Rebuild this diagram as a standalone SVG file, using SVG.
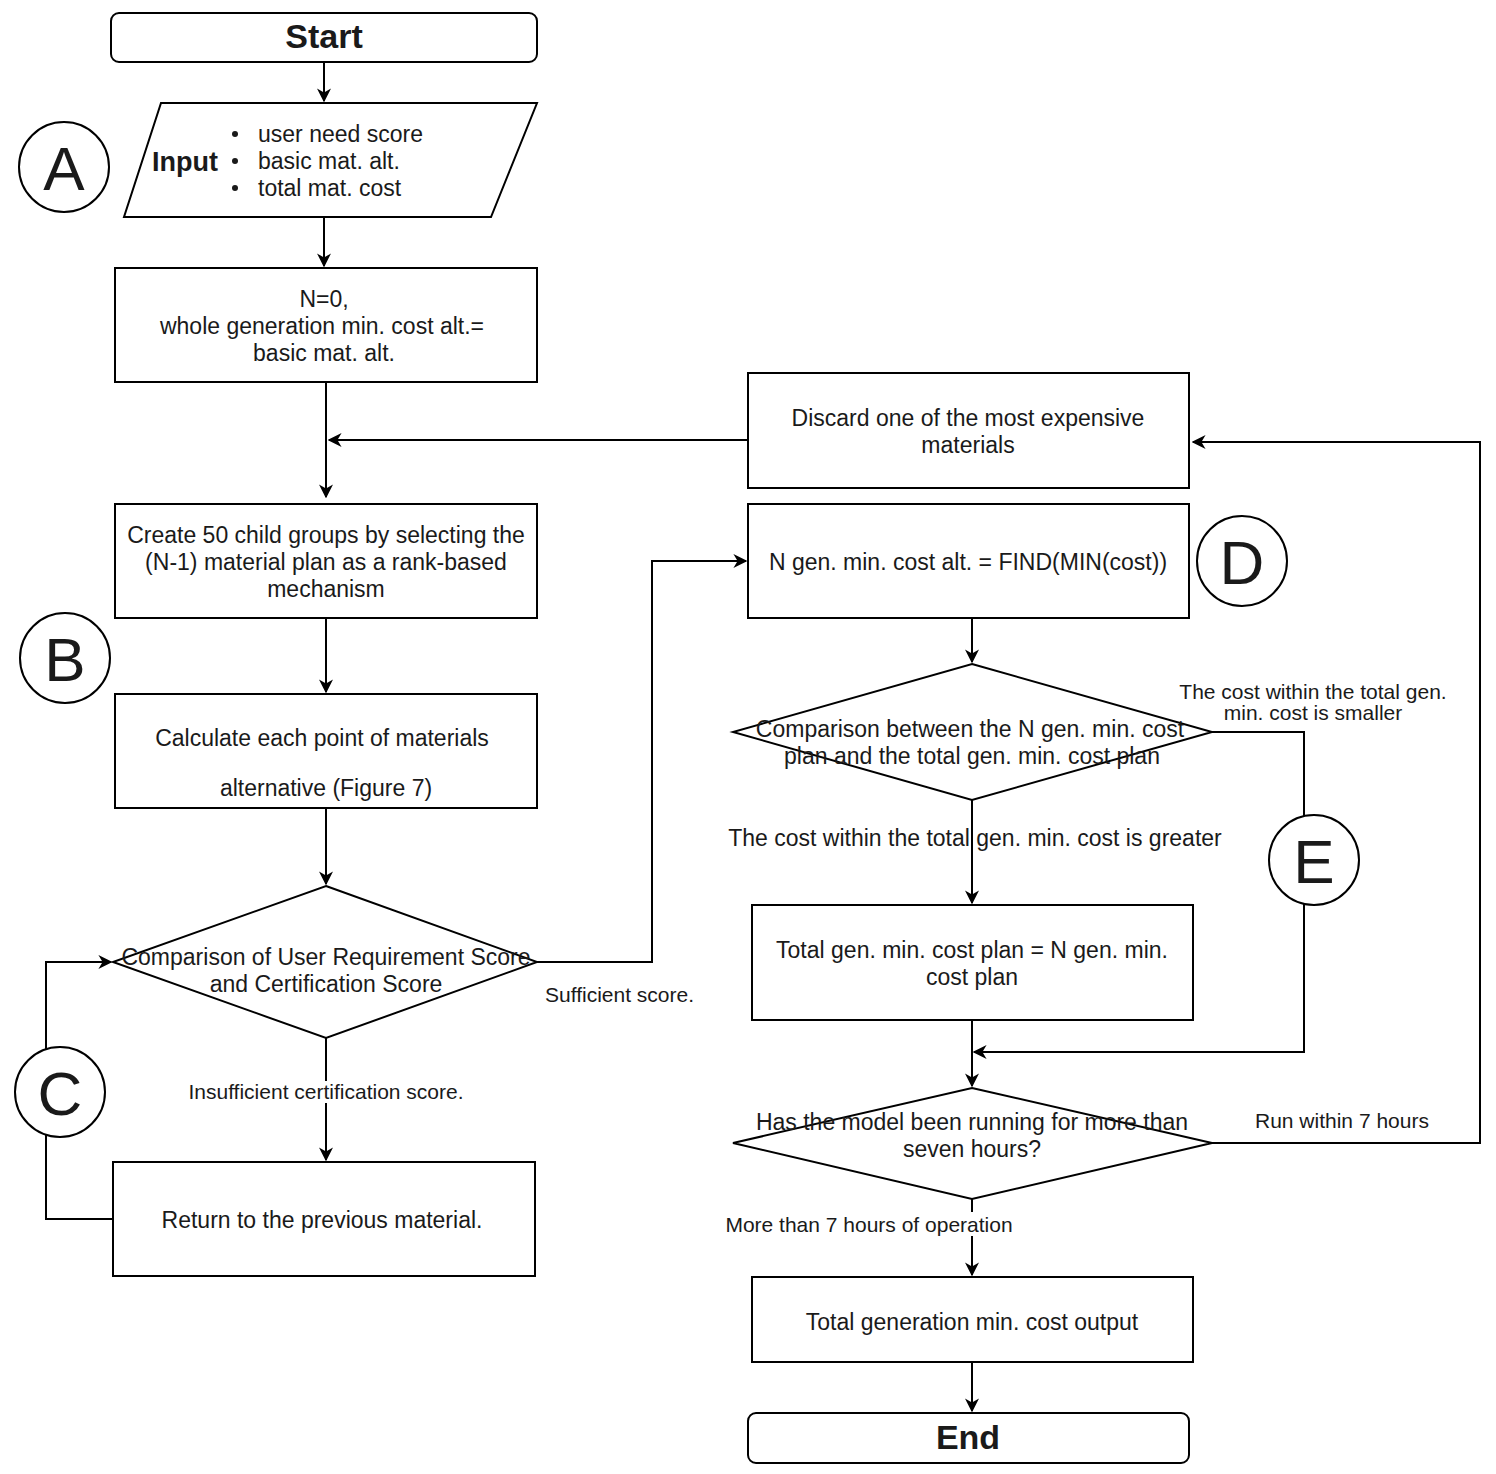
<svg xmlns="http://www.w3.org/2000/svg" width="1496" height="1474" viewBox="0 0 1496 1474">
<style>
.s{fill:#fff;stroke:#000;stroke-width:2}
.c{fill:none;stroke:#000;stroke-width:2}
text{font-family:"Liberation Sans",Arial,sans-serif;fill:#1a1a1a;font-size:23px}
.m{text-anchor:middle}
.b{font-weight:bold}
.l{font-size:21px}
.big{font-size:62px;text-anchor:middle}
</style>
<defs>
<marker id="ar" viewBox="0 0 10 10" refX="9" refY="5" markerWidth="14" markerHeight="14" markerUnits="userSpaceOnUse" orient="auto">
<path d="M0,0 L10,5 L0,10 L3,5 Z" fill="#000"/>
</marker>
</defs>
<rect width="1496" height="1474" fill="#fff"/>
<g id="connectors">
<path class="c" d="M324,62 V101" marker-end="url(#ar)"/>
<path class="c" d="M324,217 V266" marker-end="url(#ar)"/>
<path class="c" d="M326,382 V497" marker-end="url(#ar)"/>
<path class="c" d="M748,440 H329" marker-end="url(#ar)"/>
<path class="c" d="M326,618 V692" marker-end="url(#ar)"/>
<path class="c" d="M326,808 V884" marker-end="url(#ar)"/>
<path class="c" d="M537,962 H652 V561 H746" marker-end="url(#ar)"/>
<path class="c" d="M326,1038 V1160" marker-end="url(#ar)"/>
<path class="c" d="M113,1219 H46 V962 H111" marker-end="url(#ar)"/>
<path class="c" d="M972,618 V662" marker-end="url(#ar)"/>
<path class="c" d="M1212,732 H1304 V1052 H974" marker-end="url(#ar)"/>
<path class="c" d="M972,800 V903" marker-end="url(#ar)"/>
<path class="c" d="M972,1020 V1086" marker-end="url(#ar)"/>
<path class="c" d="M1212,1143 H1480 V442 H1193" marker-end="url(#ar)"/>
<path class="c" d="M972,1199 V1275" marker-end="url(#ar)"/>
<path class="c" d="M972,1362 V1411" marker-end="url(#ar)"/>
</g>
<g id="labels">
<text x="545" y="1002" class="l">Sufficient score.</text>
<rect x="188" y="1081" width="276" height="22" fill="#fff"/>
<text x="326" y="1099" class="l m">Insufficient certification score.</text>
<text x="1313" y="699" class="l m">The cost within the total gen.</text>
<text x="1313" y="720" class="l m">min. cost is smaller</text>
<text x="975" y="846" class="m">The cost within the total gen. min. cost is greater</text>
<text x="1255" y="1128" class="l">Run within 7 hours</text>
<rect x="724" y="1212" width="292" height="24" fill="#fff"/>
<text x="869" y="1232" class="l m">More than 7 hours of operation</text>
</g>
<g id="start"><rect class="s" x="111" y="13" width="426" height="49" rx="8"/><text x="324" y="48" class="m b" style="font-size:34px">Start</text></g>
<g id="input">
<path class="s" d="M161,103 H537 L491,217 H124 Z"/>
<text x="152" y="171" class="b" style="font-size:27px">Input</text>
<circle cx="235" cy="134" r="3" fill="#1a1a1a"/><circle cx="235" cy="161" r="3" fill="#1a1a1a"/><circle cx="235" cy="188" r="3" fill="#1a1a1a"/>
<text x="258" y="142">user need score</text>
<text x="258" y="169">basic mat. alt.</text>
<text x="258" y="196">total mat. cost</text>
</g>
<g id="circA"><circle class="s" cx="64" cy="167" r="45"/><text x="64" y="190" class="big">A</text></g>
<g id="init"><rect class="s" x="115" y="268" width="422" height="114"/>
<text x="324" y="307" class="m">N=0,</text><text x="322" y="334" class="m">whole generation min. cost alt.=</text><text x="324" y="361" class="m">basic mat. alt.</text></g>
<g id="discard"><rect class="s" x="748" y="373" width="441" height="115"/>
<text x="968" y="426" class="m">Discard one of the most expensive</text><text x="968" y="453" class="m">materials</text></g>
<g id="create"><rect class="s" x="115" y="504" width="422" height="114"/>
<text x="326" y="543" class="m">Create 50 child groups by selecting the</text><text x="326" y="570" class="m">(N-1) material plan as a rank-based</text><text x="326" y="597" class="m">mechanism</text></g>
<g id="circB"><circle class="s" cx="65" cy="658" r="45"/><text x="65" y="681" class="big">B</text></g>
<g id="calc"><rect class="s" x="115" y="694" width="422" height="114"/>
<text x="322" y="746" class="m">Calculate each point of materials</text><text x="326" y="796" class="m">alternative (Figure 7)</text></g>
<g id="cmp1"><path class="s" d="M326,886 L537,962 L326,1038 L113,962 Z"/>
<text x="326" y="965" class="m">Comparison of User Requirement Score</text><text x="326" y="992" class="m">and Certification Score</text></g>
<g id="ret"><rect class="s" x="113" y="1162" width="422" height="114"/><text x="322" y="1228" class="m">Return to the previous material.</text></g>
<g id="circC"><circle class="s" cx="60" cy="1092" r="45"/><text x="60" y="1115" class="big">C</text></g>
<g id="ngen"><rect class="s" x="748" y="504" width="441" height="114"/><text x="968" y="570" class="m">N gen. min. cost alt. = FIND(MIN(cost))</text></g>
<g id="circD"><circle class="s" cx="1242" cy="561" r="45"/><text x="1242" y="584" class="big">D</text></g>
<g id="cmp2"><path class="s" d="M972,664 L1212,732 L972,800 L733,732 Z"/>
<text x="970" y="737" class="m">Comparison between the N gen. min. cost</text><text x="972" y="764" class="m">plan and the total gen. min. cost plan</text></g>
<g id="circE"><circle class="s" cx="1314" cy="860" r="45"/><text x="1314" y="883" class="big">E</text></g>
<g id="total"><rect class="s" x="752" y="905" width="441" height="115"/>
<text x="972" y="958" class="m">Total gen. min. cost plan = N gen. min.</text><text x="972" y="985" class="m">cost plan</text></g>
<g id="hours"><path class="s" d="M972,1088 L1212,1143 L972,1199 L733,1143 Z"/>
<text x="972" y="1130" class="m">Has the model been running for more than</text><text x="972" y="1157" class="m">seven hours?</text></g>
<g id="output"><rect class="s" x="752" y="1277" width="441" height="85"/><text x="972" y="1330" class="m">Total generation min. cost output</text></g>
<g id="end"><rect class="s" x="748" y="1413" width="441" height="50" rx="8"/><text x="968" y="1449" class="m b" style="font-size:34px">End</text></g>
</svg>
